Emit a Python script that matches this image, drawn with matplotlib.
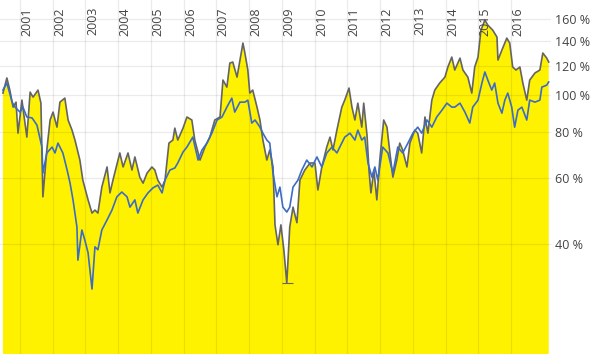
import matplotlib
matplotlib.use("Agg")
import matplotlib.pyplot as plt
import matplotlib.transforms as mtransforms

plt.rcParams['font.family'] = ['Open Sans', 'DejaVu Sans']

# ========== Data (decimal years / percent) ==========
gray_years = [2000.48, 2000.60, 2000.69, 2000.79, 2000.88, 2000.94, 2001.06, 2001.21, 2001.31, 2001.40,
              2001.55, 2001.64, 2001.70, 2001.82, 2001.92, 2002.01, 2002.13, 2002.22, 2002.37, 2002.47,
              2002.59, 2002.68, 2002.83, 2002.92, 2003.08, 2003.20, 2003.29, 2003.38, 2003.50, 2003.66,
              2003.75, 2003.84, 2004.05, 2004.15, 2004.30, 2004.42, 2004.51, 2004.66, 2004.76, 2004.88,
              2005.03, 2005.12, 2005.21, 2005.34, 2005.43, 2005.55, 2005.67, 2005.73, 2005.82, 2005.98,
              2006.10, 2006.25, 2006.34, 2006.50, 2006.65, 2006.80, 2006.95, 2007.11, 2007.20, 2007.32,
              2007.41, 2007.50, 2007.63, 2007.72, 2007.81, 2007.87, 2007.96, 2008.02, 2008.11, 2008.24,
              2008.33, 2008.42, 2008.54, 2008.63, 2008.73, 2008.79, 2008.88, 2008.97, 2009.06, 2009.15,
              2009.24, 2009.34, 2009.46, 2009.55, 2009.70, 2009.86, 2010.01, 2010.10, 2010.22, 2010.37,
              2010.47, 2010.56, 2010.68, 2010.83, 2010.92, 2011.05, 2011.14, 2011.23, 2011.32, 2011.44,
              2011.50, 2011.60, 2011.66, 2011.72, 2011.81, 2011.90, 2011.99, 2012.11, 2012.21, 2012.30,
              2012.39, 2012.51, 2012.60, 2012.69, 2012.82, 2012.91, 2013.06, 2013.15, 2013.27, 2013.37,
              2013.46, 2013.58, 2013.67, 2013.82, 2013.98, 2014.07, 2014.19, 2014.28, 2014.44, 2014.53,
              2014.68, 2014.80, 2014.89, 2014.99, 2015.08, 2015.20, 2015.29, 2015.44, 2015.57, 2015.60,
              2015.72, 2015.87, 2015.96, 2016.05, 2016.15, 2016.27, 2016.36, 2016.48, 2016.57, 2016.73,
              2016.88, 2016.97, 2017.09, 2017.15]
gray_pct = [101.4, 111.3, 103.3, 93.0, 95.9, 79.2, 97.1, 77.3, 102.0, 98.9,
            103.3, 95.3, 53.5, 71.4, 85.9, 90.2, 82.2, 95.9, 98.3, 85.9,
            80.7, 75.9, 67.1, 59.3, 52.5, 48.4, 49.3, 48.4, 56.8, 64.3,
            54.8, 59.3, 70.1, 64.3, 70.1, 63.1, 68.4, 60.4, 58.2, 61.9,
            64.3, 63.1, 59.3, 56.8, 59.3, 74.5, 75.9, 81.7, 75.9, 81.7,
            87.5, 85.9, 75.9, 67.1, 72.7, 77.3, 85.9, 87.5, 109.9, 105.2,
            122.0, 122.8, 111.9, 124.3, 138.0, 129.8, 116.9, 101.4, 103.3, 93.0,
            85.9, 75.9, 67.1, 71.4, 64.3, 45.0, 39.8, 45.0, 38.6, 31.4,
            44.4, 50.2, 45.6, 59.3, 63.1, 65.9, 65.9, 55.8, 64.3, 72.7,
            77.3, 71.4, 80.7, 93.0, 97.1, 104.6, 93.0, 85.9, 95.3, 82.2,
            95.3, 78.3, 63.1, 54.8, 63.1, 52.5, 67.1, 85.9, 82.2, 70.1,
            60.4, 67.1, 74.5, 71.4, 64.3, 74.5, 80.7, 79.2, 70.1, 87.5,
            79.2, 97.1, 103.3, 107.9, 111.9, 119.1, 126.6, 116.9, 125.8, 116.9,
            111.9, 101.4, 119.1, 126.6, 149.5, 159.0, 154.2, 149.5, 143.2, 124.3,
            132.2, 142.3, 138.0, 119.1, 116.9, 119.1, 107.9, 97.1, 109.9, 114.8,
            116.9, 129.8, 125.8, 122.8]

blue_years = [2000.48, 2000.60, 2000.76, 2000.85, 2001.00, 2001.09, 2001.21, 2001.37, 2001.52, 2001.67,
              2001.70, 2001.82, 2001.98, 2002.07, 2002.16, 2002.31, 2002.44, 2002.53, 2002.62, 2002.74,
              2002.77, 2002.89, 2002.98, 2003.08, 2003.20, 2003.29, 2003.38, 2003.50, 2003.66, 2003.81,
              2003.96, 2004.11, 2004.27, 2004.36, 2004.51, 2004.60, 2004.76, 2004.91, 2005.06, 2005.21,
              2005.34, 2005.43, 2005.58, 2005.73, 2005.82, 2005.98, 2006.10, 2006.28, 2006.44, 2006.56,
              2006.71, 2006.86, 2007.02, 2007.17, 2007.32, 2007.47, 2007.56, 2007.72, 2007.87, 2007.96,
              2008.08, 2008.18, 2008.33, 2008.42, 2008.54, 2008.63, 2008.73, 2008.85, 2008.94, 2009.03,
              2009.15, 2009.24, 2009.34, 2009.49, 2009.61, 2009.76, 2009.92, 2010.07, 2010.22, 2010.37,
              2010.53, 2010.68, 2010.77, 2010.92, 2011.08, 2011.23, 2011.32, 2011.44, 2011.53, 2011.63,
              2011.75, 2011.84, 2011.93, 2012.08, 2012.24, 2012.39, 2012.54, 2012.69, 2012.85, 2013.00,
              2013.15, 2013.27, 2013.43, 2013.58, 2013.73, 2013.89, 2014.04, 2014.19, 2014.28, 2014.44,
              2014.59, 2014.74, 2014.83, 2014.99, 2015.11, 2015.20, 2015.29, 2015.41, 2015.50, 2015.60,
              2015.72, 2015.81, 2015.90, 2016.02, 2016.11, 2016.21, 2016.33, 2016.48, 2016.57, 2016.73,
              2016.88, 2016.94, 2017.09, 2017.15]
blue_pct = [103.3, 107.9, 95.9, 93.0, 90.2, 93.0, 87.5, 87.0, 83.2, 72.7,
            61.9, 70.1, 72.7, 70.1, 74.5, 70.1, 63.1, 58.2, 52.5, 44.4,
            36.2, 43.6, 41.0, 37.9, 30.3, 39.3, 38.6, 43.6, 46.4, 49.3,
            53.5, 55.1, 53.5, 50.2, 52.5, 48.4, 52.5, 54.8, 56.5, 57.5,
            54.8, 59.3, 63.1, 63.9, 65.9, 70.5, 72.7, 77.3, 67.1, 71.4,
            74.5, 79.2, 85.9, 87.5, 93.0, 98.3, 90.2, 95.9, 95.9, 97.1,
            84.3, 85.9, 82.2, 79.2, 75.9, 74.5, 61.9, 53.5, 56.8, 50.2,
            48.7, 50.2, 56.8, 59.3, 63.1, 67.1, 64.3, 68.4, 64.3, 70.1,
            72.7, 70.1, 72.7, 77.3, 79.2, 75.9, 80.7, 75.9, 77.3, 65.9,
            60.4, 64.3, 59.3, 72.7, 70.1, 61.9, 72.7, 70.1, 74.5, 79.2,
            82.2, 79.2, 85.9, 82.2, 87.5, 91.3, 95.3, 93.0, 93.0, 95.3,
            90.2, 84.3, 93.0, 97.1, 107.9, 115.5, 109.9, 103.3, 107.9, 95.3,
            89.6, 97.1, 101.4, 93.0, 82.2, 91.3, 93.0, 85.9, 97.1, 95.9,
            97.1, 105.2, 106.5, 108.6]

years = list(range(2001, 2017))
y_ticks = [40, 60, 80, 100, 120, 140, 160]
y_labels = [f"{v} %" for v in y_ticks]

# ========== Plot ==========
fig = plt.figure(figsize=(5.93, 3.54), dpi=100)
ax = fig.add_axes([0, 0, 551 / 593, 1])
ax.set_yscale('log')
ax.set_ylim(20.3, 180)
ax.set_xlim(2000.39, 2017.22)

ax.fill_between(gray_years, gray_pct, 1, color='#fff200', linewidth=0, zorder=1)
ax.plot(gray_years, gray_pct, color='#646464', linewidth=1.2, zorder=3)
ax.plot(blue_years, blue_pct, color='#3c6cc4', linewidth=1.2, zorder=4)

# small marker at the lowest point of the grey series
i_min = gray_pct.index(min(gray_pct))
ax.hlines(min(gray_pct), gray_years[i_min] - 0.15, gray_years[i_min] + 0.2,
          color='#646464', linewidth=0.8, zorder=3)

# grid
for yr in years:
    ax.axvline(yr, color='black', alpha=0.08, linewidth=0.9, zorder=2)
for v in y_ticks:
    ax.axhline(v, color='black', alpha=0.08, linewidth=0.9, zorder=2)

# year labels at the top
offset = mtransforms.ScaledTranslation(7 / 100, 0, fig.dpi_scale_trans)
trans = mtransforms.blended_transform_factory(ax.transData, ax.transAxes) + offset
for yr in years:
    ax.text(yr, 1 - 7 / 354, str(yr), rotation=90, ha='center', va='top',
            fontsize=9, color='#444444', transform=trans)

ax.yaxis.tick_right()
ax.set_yticks(y_ticks)
ax.set_yticklabels(y_labels)
ax.yaxis.set_minor_locator(matplotlib.ticker.NullLocator())
ax.tick_params(axis='y', length=0, pad=3, labelsize=9, labelcolor='#444444')
ax.set_xticks([])
for s in ax.spines.values():
    s.set_visible(False)

fig.savefig("out.png", dpi=100)
